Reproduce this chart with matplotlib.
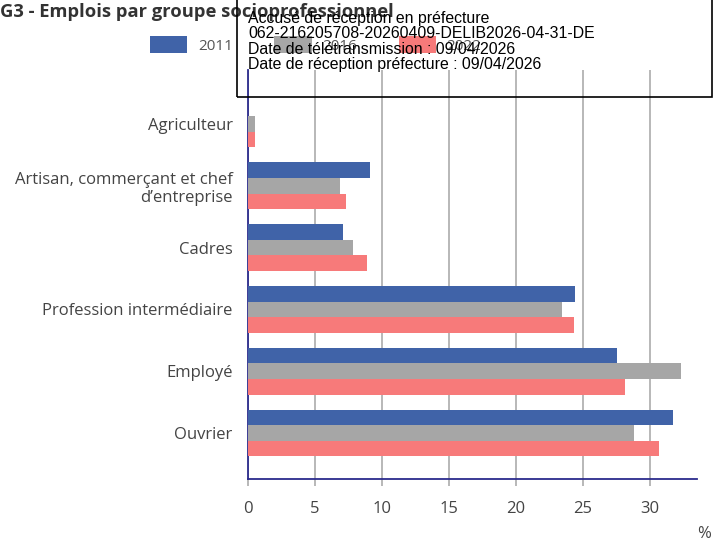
import matplotlib
matplotlib.use("Agg")
import matplotlib.pyplot as plt
import numpy as np
from matplotlib.patches import Rectangle, Patch

categories = ["Agriculteur", "Artisan, commerçant et chef\nd\u2019entreprise", "Cadres",
              "Profession intermédiaire", "Employé", "Ouvrier"]
years = ["2011", "2016", "2022"]
v2011 = [0.0, 9.1, 7.1, 24.4, 27.5, 31.7]
v2016 = [0.5, 6.9, 7.8, 23.4, 32.3, 28.8]
v2022 = [0.5, 7.3, 8.9, 24.3, 28.1, 30.7]
xticks = [0, 5, 10, 15, 20, 25, 30]

colors = ["#4063a8", "#a6a6a6", "#f77a7a"]

W, H = 715, 544
fig = plt.figure(figsize=(W / 100, H / 100), dpi=100)
ax = fig.add_axes([248 / W, 1 - 479 / H, (697 - 248) / W, (479 - 70) / H])

y = np.arange(len(categories))
bh = 0.252
for k, (vals, col) in enumerate(zip([v2011, v2016, v2022], colors)):
    ax.barh(y + (k - 1) * bh, vals, height=bh, color=col, zorder=3)

ax.set_ylim(5.745, -0.875)
ax.set_xlim(0, 33.5)
ax.set_xticks(xticks)
ax.set_xticklabels([str(t) for t in xticks], fontsize=12, color="#444444", family="Open Sans")
ax.set_yticks(y)
ax.set_yticklabels(categories, fontsize=12, color="#444444", family="Open Sans",
                   linespacing=1.2)
ax.tick_params(axis="x", length=5, width=1.4, color="#b8b8b8", pad=11)
ax.tick_params(axis="y", length=0, pad=11)
for s in ["top", "right"]:
    ax.spines[s].set_visible(False)
for s in ["left", "bottom"]:
    ax.spines[s].set_color("#2b2b8c")
    ax.spines[s].set_linewidth(1.3)
ax.xaxis.grid(True, color="#b8b8b8", linewidth=1.4, zorder=0)
ax.set_axisbelow(True)

fig.text(0, 1 - 12 / H, "G3 - Emplois par groupe socioprofessionnel", fontsize=13.2,
         fontweight="bold", family="Open Sans", color="#333333", va="center", ha="left")

handles = [Patch(facecolor=c) for c in colors]
fig.legend(handles, years, loc="center left", bbox_to_anchor=(150 / W, 1 - 45 / H),
           ncol=3, frameon=False, handlelength=2.45, handleheight=1.25,
           handletextpad=0.7, columnspacing=2.7, borderpad=0, borderaxespad=0,
           labelcolor="#555555", prop={"family": "Open Sans", "size": 11})

fig.text(704 / W, 1 - 534 / H, "%", fontsize=12, family="Open Sans", color="#444444",
         ha="center", va="center")

# Stamp box drawn on top of the figure
fig.add_artist(Rectangle((237 / W, 1 - 97 / H), (712 - 237) / W, 100 / H,
                         transform=fig.transFigure, fill=False, edgecolor="black",
                         linewidth=1.2, zorder=10))
stamp = ["Accusé de réception en préfecture",
         "062-216205708-20260409-DELIB2026-04-31-DE",
         "Date de télétransmission : 09/04/2026",
         "Date de réception préfecture : 09/04/2026"]
for i, line in enumerate(stamp):
    fig.text(248 / W, 1 - (18 + i * 15.5) / H, line, fontsize=11.4, family="Liberation Sans",
             color="black", va="center", ha="left", zorder=11)

fig.savefig("out.png", dpi=100)
